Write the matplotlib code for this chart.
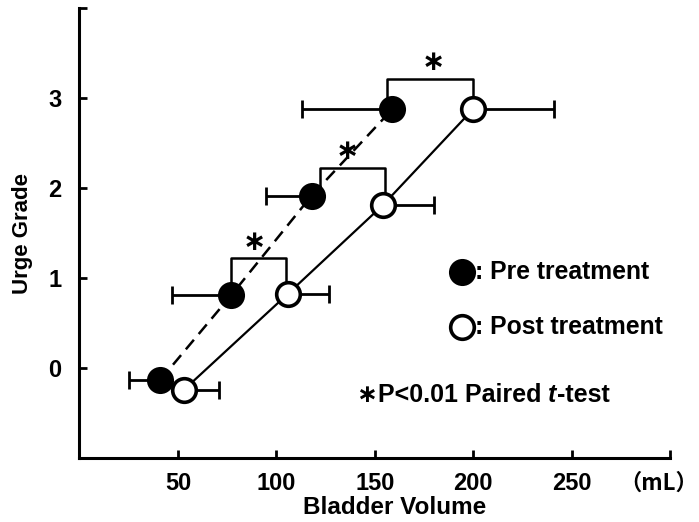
"""Urge grade vs bladder volume, pre and post treatment."""

import matplotlib

matplotlib.use("Agg")
import matplotlib.pyplot as plt

plt.rcParams["font.family"] = ["Liberation Sans", "DejaVu Sans"]
plt.rcParams["font.weight"] = "bold"

# data
pre_volume = [41, 77, 118, 159]
pre_grade = [-0.13, 0.81, 1.92, 2.88]
pre_err = [16, 30, 23, 46]

post_volume = [53, 106, 154, 200]
post_grade = [-0.24, 0.83, 1.81, 2.88]
post_err = [18, 21, 26, 41]

# significance brackets between paired points (grades 1-3)
bracket_left = [77, 122, 156]
bracket_right = [105, 155, 200]
bracket_top = [1.23, 2.23, 3.21]
star_x = [89, 136, 180]
star_y = [1.40, 2.42, 3.40]

x_ticks = [50, 100, 150, 200, 250, 300]
x_labels = ["50", "100", "150", "200", "250", ""]
unit_label = "（mL）"
y_ticks = [0, 1, 2, 3, 4]
y_labels = ["0", "1", "2", "3", ""]

fig = plt.figure(figsize=(6.99, 5.22), dpi=100)
ax = fig.add_axes([0.1137, 0.1220, 0.8448, 0.8621])

# error bars: pre only to the left, post only to the right
ax.errorbar(pre_volume, pre_grade, xerr=[pre_err, [0] * len(pre_err)], fmt="none",
            ecolor="black", elinewidth=2, capsize=6.5, capthick=2, zorder=2)
ax.errorbar(post_volume, post_grade, xerr=[[0] * len(post_err), post_err], fmt="none",
            ecolor="black", elinewidth=2, capsize=6.5, capthick=2, zorder=2)

ax.plot(pre_volume, pre_grade, color="black", lw=1.8, linestyle=(0, (5, 3)), zorder=2)
ax.plot(post_volume, post_grade, color="black", lw=1.6, zorder=2)

for i in range(len(bracket_top)):
    ax.plot([bracket_left[i], bracket_left[i], bracket_right[i], bracket_right[i]],
            [pre_grade[i + 1], bracket_top[i], bracket_top[i], post_grade[i + 1]],
            color="black", lw=1.8, zorder=1)
    ax.text(star_x[i], star_y[i], "∗", fontsize=20, ha="center", va="center",
            family=["DejaVu Sans"])

ax.plot(pre_volume, pre_grade, "o", ms=18, mfc="black", mec="black", mew=1.5, zorder=3)
ax.plot(post_volume, post_grade, "o", ms=17, mfc="white", mec="black", mew=2.6, zorder=3)

# legend drawn as in the figure
ax.plot([194.5], [1.07], "o", ms=18, mfc="black", mec="black", mew=1.5)
ax.plot([194.5], [0.46], "o", ms=17, mfc="white", mec="black", mew=2.6)
ax.text(201, 1.07, ": Pre treatment", fontsize=17.8, va="center", ha="left")
ax.text(201, 0.46, ": Post treatment", fontsize=17.8, va="center", ha="left")

ax.text(146, -0.30, "∗", fontsize=18, va="center", ha="center", family=["DejaVu Sans"])
note = ax.text(151.5, -0.30, "P<0.01 Paired ", fontsize=18, va="center", ha="left")
t_part = ax.annotate("t", xy=(1, 0), xycoords=note, fontsize=18, va="bottom",
                     ha="left", style="italic")
ax.annotate("-test", xy=(1, 0), xycoords=t_part, fontsize=18, va="bottom", ha="left")

ax.set_xlim(0, 300)
ax.set_ylim(-1, 4)
ax.set_xticks(x_ticks, x_labels)
ax.set_yticks(y_ticks, y_labels)
ax.tick_params(direction="in", length=6, width=2, labelsize=17)
ax.tick_params(axis="x", pad=10)
ax.tick_params(axis="y", pad=13)

# unit sits where the 300 tick label would be, kept inside the figure
ax.annotate(unit_label, xy=(1, 0), xycoords="axes fraction", xytext=(20.5, -10),
            textcoords="offset points", ha="right", va="top", fontsize=16,
            family=["Noto Sans CJK JP", "DejaVu Sans"])

ax.set_xlabel("Bladder Volume", fontsize=17.5, fontweight="bold")
ax.xaxis.set_label_coords(0.534, -0.083)
ax.set_ylabel("Urge Grade", fontsize=16, fontweight="bold")
ax.yaxis.set_label_coords(-0.079, 0.5)

for side in ("top", "right"):
    ax.spines[side].set_visible(False)
for side in ("left", "bottom"):
    ax.spines[side].set_linewidth(2.2)

fig.savefig("out.png", dpi=100)
